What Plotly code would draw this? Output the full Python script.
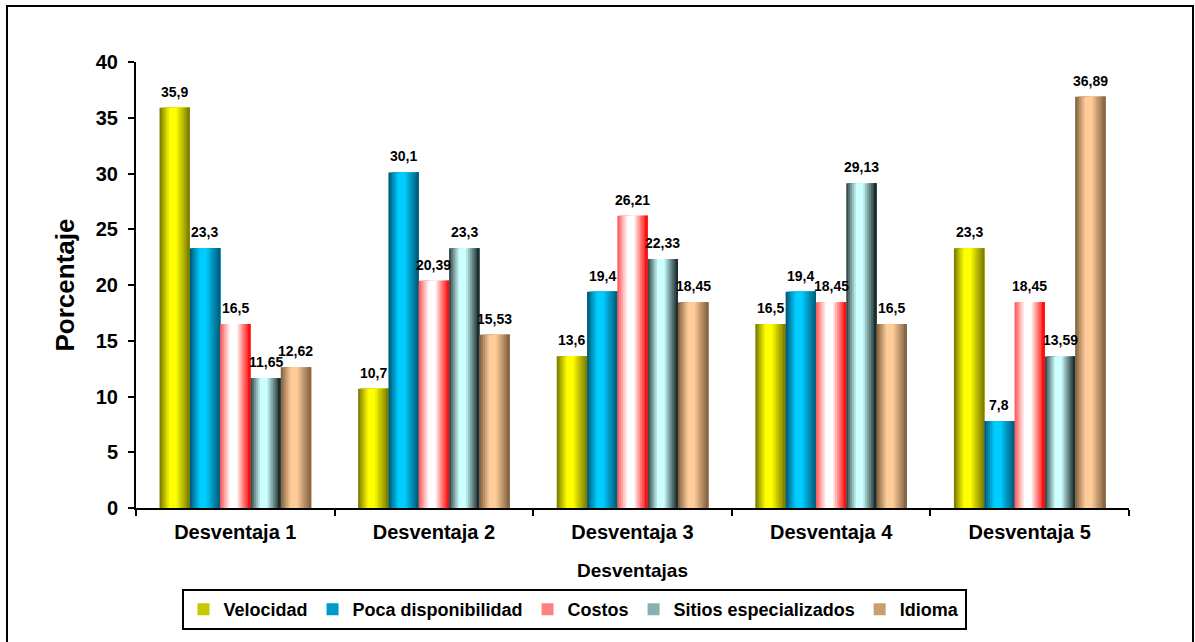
import plotly.graph_objects as go

# ---- data -------------------------------------------------------------
categories = ["Desventaja 1", "Desventaja 2", "Desventaja 3", "Desventaja 4", "Desventaja 5"]
series_names = ["Velocidad", "Poca disponibilidad", "Costos", "Sitios especializados", "Idioma"]
velocidad = [35.9, 10.7, 13.6, 16.5, 23.3]
poca_disponibilidad = [23.3, 30.1, 19.4, 19.4, 7.8]
costos = [16.5, 20.39, 26.21, 18.45, 18.45]
sitios_especializados = [11.65, 23.3, 22.33, 29.13, 13.59]
idioma = [12.62, 15.53, 18.45, 16.5, 36.89]
y_ticks = [0, 5, 10, 15, 20, 25, 30, 35, 40]

series_values = [velocidad, poca_disponibilidad, costos, sitios_especializados, idioma]

# ---- styling ----------------------------------------------------------
FONT = "Arial, Liberation Sans, sans-serif"
# (left edge, highlight, right edge, legend swatch) for the cylinder-like shading
shades = [
    ("#6f6f00", "#ffff00", "#7a7a00", "#c8c800"),
    ("#00506c", "#00ccff", "#005a78", "#0099cc"),
    ("#ff4a4a", "#ffffff", "#ff0000", "#ff8080"),
    ("#263636", "#ccffff", "#102020", "#88b0b0"),
    ("#775838", "#ffcc99", "#806040", "#c8a070"),
]

BAR_W = 0.1526          # width of one bar, in category units
GROUP_LEFT = -2.5 * BAR_W
N_STRIPS = 16


def hex_to_rgb(h):
    h = h.lstrip("#")
    return tuple(int(h[i:i + 2], 16) for i in (0, 2, 4))


def mix(c1, c2, f):
    a, b = hex_to_rgb(c1), hex_to_rgb(c2)
    return "rgb(%d,%d,%d)" % tuple(round(a[i] + (b[i] - a[i]) * f) for i in range(3))


def shade_at(t, left, mid, right):
    # bright band in the middle, darkening towards both edges
    lo, hi = 0.34, 0.55
    if t < lo:
        f = (t / lo) ** 0.9
        return mix(left, mid, f)
    if t <= hi:
        return mix(mid, mid, 0)
    f = ((t - hi) / (1 - hi)) ** 0.9
    return mix(mid, right, f)


fig = go.Figure()

for s, (name, vals) in enumerate(zip(series_names, series_values)):
    left_c, mid_c, right_c, legend_c = shades[s]
    bar_left = GROUP_LEFT + s * BAR_W
    # nested strips: each one starts further right and covers to the bar's right edge
    for k in range(N_STRIPS):
        t = (k + 0.5) / N_STRIPS
        start = bar_left + BAR_W * k / N_STRIPS
        fig.add_trace(go.Bar(
            x=categories,
            y=vals,
            name=name,
            offset=start,
            width=BAR_W - BAR_W * k / N_STRIPS,
            marker=dict(color=shade_at(t, left_c, mid_c, right_c), line=dict(width=0)),
            showlegend=False,
            legendgroup=name,
            hoverinfo="skip" if k else "x+y+name",
        ))
    # legend entry for the series
    fig.add_trace(go.Bar(
        x=[categories[0]], y=[None], name=name, legendgroup=name,
        marker=dict(color=legend_c, line=dict(width=0)),
        showlegend=True, hoverinfo="skip",
    ))
    # value labels above each bar
    for i, v in enumerate(vals):
        fig.add_annotation(
            x=i + bar_left + BAR_W / 2, y=v, xref="x", yref="y",
            text=str(v).replace(".", ","),
            showarrow=False, yanchor="bottom", yshift=6,
            font=dict(family=FONT, size=14, color="black", weight="bold"),
        )

W, H = 1195, 642
ML, MR, MT, MB = 136, 66, 62, 134
pw, ph = W - ML - MR, H - MT - MB


def px_x(p):
    return (p - ML) / pw


def px_y(p):
    return (H - MB - p) / ph


# outer chart frame
fig.add_shape(type="rect", xref="paper", yref="paper",
              x0=px_x(7), x1=px_x(1193), y0=px_y(646), y1=px_y(6),
              line=dict(color="black", width=2), fillcolor="rgba(0,0,0,0)", layer="below")

fig.update_layout(
    width=W, height=H,
    margin=dict(l=ML, r=MR, t=MT, b=MB, autoexpand=False),
    barmode="overlay",
    paper_bgcolor="white", plot_bgcolor="white",
    font=dict(family=FONT, color="black"),
    showlegend=True,
    legend=dict(
        orientation="h", x=px_x(574), xanchor="center", y=px_y(589), yanchor="top",
        bordercolor="black", borderwidth=2, bgcolor="white",
        font=dict(family=FONT, size=18, color="black", weight="bold"),
        itemclick=False, itemdoubleclick=False, traceorder="normal",
    ),
    xaxis=dict(
        type="category", range=[-0.5, 4.5],
        showline=True, linecolor="black", linewidth=2, mirror=False,
        ticks="outside", tickson="boundaries", ticklen=6, tickwidth=2, tickcolor="black",
        tickfont=dict(family=FONT, size=20, color="black", weight="bold"),
        ticklabelstandoff=5,
        showgrid=False, zeroline=False,
        title=dict(text="Desventajas", standoff=22,
                   font=dict(family=FONT, size=19, color="black", weight="bold")),
    ),
    yaxis=dict(
        range=[0, 40], tickvals=y_ticks,
        showline=True, linecolor="black", linewidth=2,
        ticks="outside", ticklen=6, tickwidth=2, tickcolor="black",
        tickfont=dict(family=FONT, size=20, color="black", weight="bold"),
        ticklabelstandoff=6,
        showgrid=False, zeroline=False,
        title=dict(text="Porcentaje", standoff=14,
                   font=dict(family=FONT, size=26, color="black", weight="bold")),
    ),
)

fig.write_html("out.html")
